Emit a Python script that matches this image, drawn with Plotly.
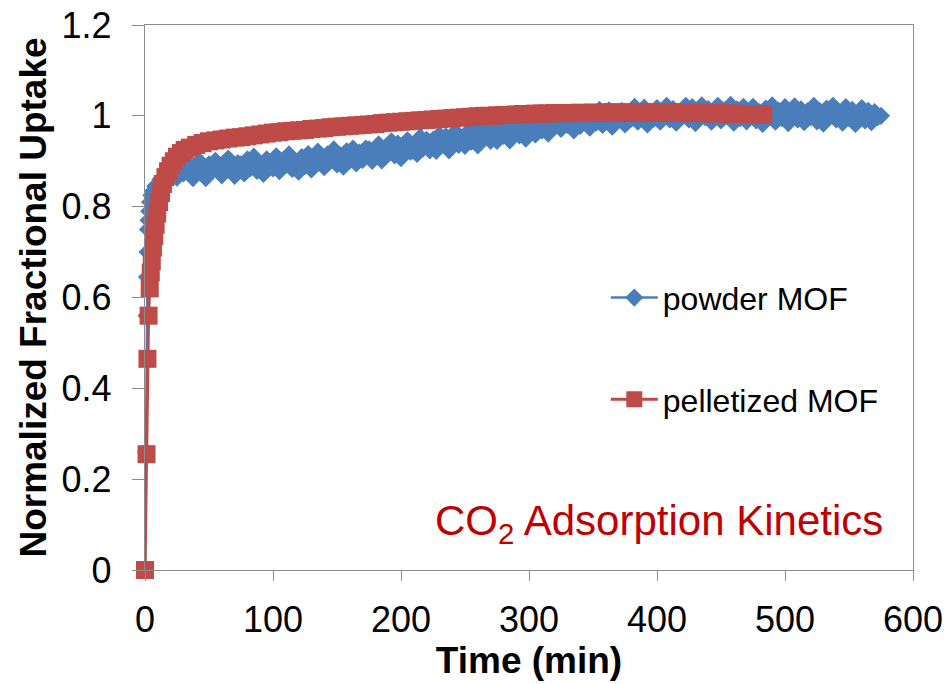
import plotly.graph_objects as go

# ---------------- data ----------------
# powder MOF: fast initial points, then readings every 2.5 min from 25 to 575 min
powder_t_start = [0, 0.8, 1.2, 1.6, 2.0, 2.4, 2.8, 3.3, 4, 5, 6.5, 8, 10, 12, 15, 18, 21]
powder_y_start = [0, 0.26, 0.56, 0.645, 0.70, 0.75, 0.77, 0.79, 0.81, 0.825, 0.835, 0.845, 0.85, 0.86, 0.865, 0.87, 0.875]
powder_y_tail = [
    0.864, 0.885, 0.873, 0.896, 0.878, 0.863, 0.889, 0.900, 0.874, 0.863, 0.893, 0.880, 0.901, 0.887, 0.869, 0.898, 0.906, 0.877, 0.868, 0.896,
    0.893, 0.873, 0.904, 0.885, 0.910, 0.879, 0.892, 0.872, 0.904, 0.897, 0.884, 0.911, 0.878, 0.902, 0.892, 0.915, 0.883, 0.897, 0.877, 0.909,
    0.889, 0.916, 0.882, 0.905, 0.921, 0.895, 0.887, 0.915, 0.905, 0.926, 0.893, 0.913, 0.888, 0.922, 0.905, 0.928, 0.895, 0.919, 0.903, 0.928,
    0.926, 0.901, 0.919, 0.937, 0.902, 0.928, 0.916, 0.944, 0.913, 0.939, 0.907, 0.933, 0.946, 0.921, 0.933, 0.916, 0.953, 0.929, 0.947, 0.924,
    0.947, 0.923, 0.958, 0.937, 0.955, 0.924, 0.950, 0.965, 0.936, 0.950, 0.934, 0.965, 0.943, 0.972, 0.935, 0.962, 0.953, 0.971, 0.945, 0.977,
    0.945, 0.972, 0.956, 0.982, 0.946, 0.970, 0.983, 0.957, 0.977, 0.950, 0.984, 0.973, 0.959, 0.995, 0.968, 0.987, 0.961, 0.993, 0.977, 0.999,
    0.971, 0.999, 0.980, 1.005, 0.968, 0.994, 0.978, 1.005, 0.991, 0.974, 1.002, 0.985, 1.013, 0.980, 0.998, 1.012, 0.976, 1.005, 0.993, 1.011,
    0.981, 1.008, 0.994, 1.020, 0.987, 1.004, 1.018, 0.981, 1.009, 0.994, 1.017, 0.987, 1.004, 1.022, 0.992, 1.015, 0.985, 1.009, 1.000, 1.022,
    0.992, 1.019, 0.984, 1.010, 1.023, 0.997, 1.015, 0.987, 1.006, 1.022, 0.990, 1.012, 0.999, 1.024, 0.985, 1.014, 0.995, 1.020, 0.988, 1.008,
    1.020, 0.990, 1.008, 0.982, 1.016, 0.999, 1.023, 0.987, 1.011, 0.995, 1.019, 0.984, 1.004, 1.021, 0.992, 1.014, 0.986, 1.010, 0.997, 1.022,
    0.988, 1.010, 0.983, 1.016, 0.999, 1.022, 0.992, 1.007, 0.985, 1.019, 0.995, 1.013, 0.982, 1.005, 1.017, 0.990, 1.011, 0.986, 1.008, 0.997,
    1.000,
]
powder_t_tail = [25 + 2.5 * i for i in range(len(powder_y_tail))]
powder_t = powder_t_start + powder_t_tail
powder_y = powder_y_start + powder_y_tail

pellet_t = [0, 1.2, 1.9, 2.8, 3.7, 4.5, 5.3, 6.2, 7.2, 8.3, 9.5, 11, 12.5, 14, 16, 18, 20,
            22.5, 25, 28, 31, 35, 40, 45, 50,
            55, 60, 65, 70, 75, 80, 85, 90, 95, 100,
            105, 110, 115, 120, 125, 130, 135, 140, 145, 150,
            155, 160, 165, 170, 175, 180, 185, 190, 195, 200,
            205, 210, 215, 220, 225, 230, 235, 240, 245, 250,
            255, 260, 265, 270, 275, 280, 285, 290, 295, 300,
            305, 310, 315, 320, 325, 330, 335, 340, 345, 350,
            355, 360, 365, 370, 375, 380, 385, 390, 395, 400,
            405, 410, 415, 420, 425, 430, 435, 440, 445, 450,
            455, 460, 465, 470, 475, 480, 483]
pellet_y = [0, 0.255, 0.465, 0.56, 0.62, 0.655, 0.68, 0.71, 0.735, 0.76, 0.785, 0.81, 0.83, 0.85, 0.865, 0.878, 0.89,
            0.90, 0.91, 0.918, 0.925, 0.93, 0.936, 0.94, 0.944,
            0.946, 0.948, 0.950, 0.952, 0.953, 0.955, 0.957, 0.959, 0.961, 0.963,
            0.964, 0.966, 0.967, 0.968, 0.969, 0.971, 0.972, 0.973, 0.975, 0.976,
            0.977, 0.978, 0.979, 0.980, 0.981, 0.982, 0.984, 0.985, 0.986, 0.987,
            0.988, 0.989, 0.990, 0.991, 0.992, 0.993, 0.994, 0.995, 0.996, 0.997,
            0.998, 0.999, 1.000, 1.000, 1.001, 1.002, 1.002, 1.003, 1.004, 1.004,
            1.005, 1.005, 1.005, 1.006, 1.006, 1.006, 1.006, 1.007, 1.006, 1.007,
            1.007, 1.007, 1.008, 1.007, 1.007, 1.008, 1.007, 1.007, 1.008, 1.007,
            1.007, 1.008, 1.007, 1.007, 1.006, 1.007, 1.006, 1.006, 1.005, 1.006,
            1.005, 1.005, 1.004, 1.004, 1.003, 1.003, 1.002]

x_ticks = [0, 100, 200, 300, 400, 500, 600]
y_ticks = [0, 0.2, 0.4, 0.6, 0.8, 1, 1.2]
y_tick_labels = ["0", "0.2", "0.4", "0.6", "0.8", "1", "1.2"]

series_names = ["powder MOF", "pelletized MOF"]

# ---------------- style ----------------
BLUE = "#4A7EBB"
RED = "#BE4B48"
FONT = "Arial, Liberation Sans, sans-serif"
AXIS_GRAY = "#8C8C8C"

fig = go.Figure()
fig.add_trace(go.Scatter(
    x=powder_t, y=powder_y, name=series_names[0], mode="lines+markers",
    line=dict(color=BLUE, width=2.5),
    marker=dict(symbol="diamond", size=14, color=BLUE),
    cliponaxis=False, legendgroup="a",
))
fig.add_trace(go.Scatter(
    x=pellet_t, y=pellet_y, name=series_names[1], mode="lines+markers",
    line=dict(color=RED, width=3),
    marker=dict(symbol="square", size=18, color=RED),
    cliponaxis=False, legendgroup="b",
))

fig.update_layout(
    width=947, height=684,
    margin=dict(l=145, r=34, t=25, b=114),
    paper_bgcolor="white", plot_bgcolor="white",
    font=dict(family=FONT, color="black"),
    showlegend=True,
    legend=dict(
        x=0.600, y=0.550, xanchor="left", yanchor="top",
        font=dict(size=32, family=FONT, color="black"),
        tracegroupgap=57, itemwidth=47,
        bgcolor="rgba(0,0,0,0)",
    ),
    annotations=[dict(
        text="CO<sub>2</sub> Adsorption Kinetics",
        xref="paper", yref="paper", x=0.9635, y=0.086,
        xanchor="right", yanchor="middle", showarrow=False,
        font=dict(size=42, family=FONT, color="#C00000"),
    )],
)

fig.update_xaxes(
    range=[0, 600], tickvals=x_ticks, automargin=False,
    showline=True, linecolor=AXIS_GRAY, linewidth=1.3, mirror=True,
    ticks="outside", ticklen=10, tickcolor=AXIS_GRAY, tickwidth=1.3,
    showgrid=False, zeroline=False,
    tickfont=dict(size=36, family=FONT, color="black"),
    ticklabelstandoff=8,
    title=dict(text="<b>Time (min)</b>", font=dict(size=37, family=FONT, color="black"), standoff=5),
)
fig.update_yaxes(
    range=[0, 1.2], tickvals=y_ticks, ticktext=y_tick_labels, automargin=False,
    showline=True, linecolor=AXIS_GRAY, linewidth=1.3, mirror=True,
    ticks="outside", ticklen=12, tickcolor=AXIS_GRAY, tickwidth=1.3,
    showgrid=False, zeroline=False,
    tickfont=dict(size=36, family=FONT, color="black"),
    ticklabelstandoff=13,
    title=dict(text="<b>Normalized Fractional Uptake</b>", font=dict(size=37, family=FONT, color="black"), standoff=3),
)

fig.write_html("out.html")
